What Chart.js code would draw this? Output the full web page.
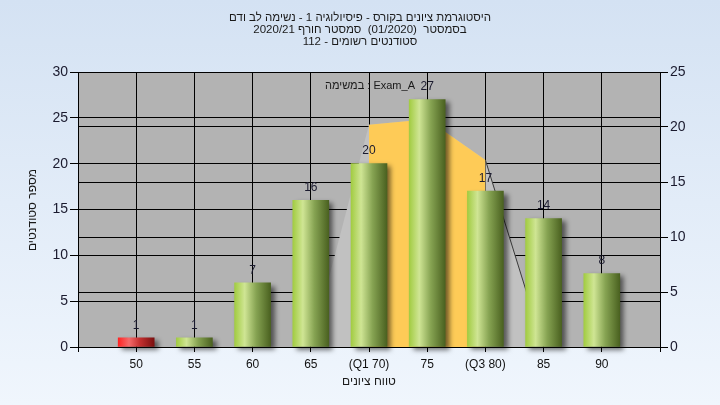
<!DOCTYPE html>
<html><head><meta charset="utf-8">
<script src="https://cdn.jsdelivr.net/npm/chart.js@4.4.1/dist/chart.umd.min.js"></script>
<style>html,body{margin:0;padding:0;background:#e6eef8}canvas{display:block}</style>
</head><body>
<canvas id="c" width="720" height="405"></canvas>
<script>
// ---- data ----
const categories = [50, 55, 60, 65, 70, 75, 80, 85, 90];
const xTickLabels = ['50', '55', '60', '65', '(Q1 70)', '75', '(Q3 80)', '85', '90'];
const counts = [1, 1, 7, 16, 20, 27, 17, 14, 8];
const barKinds = ['fail', 'pass', 'pass', 'pass', 'pass', 'pass', 'pass', 'pass', 'pass'];
const curveX = [65, 70, 75, 80, 85];
const curveY = [0, 20.2, 20.7, 17.0, 0];
const bandX = [70, 75, 80];
const bandY = [20.2, 20.7, 17.0];
const leftTicks = [0, 5, 10, 15, 20, 25, 30];
const rightTicks = [0, 5, 10, 15, 20, 25];
const titleLines = [
  'היסטוגרמת ציונים בקורס - פיסיולוגיה 1 - נשימה לב ודם',
  'בסמסטר  (01/2020)  סמסטר חורף 2020/21',
  'סטודנטים רשומים - 112'
];
const yTitle = 'מספר סטודנטים';
const xTitle = 'טווח ציונים';
const examLabel = 'במשימה : Exam_A';

const FONT = '"Liberation Sans", "DejaVu Sans", Arial, sans-serif';
Chart.defaults.font.family = FONT;

// draw words one by one, left to right
function drawTokens(ctx, line, x0, y) {
  const tokens = line.split(' ');
  const sp = ctx.measureText(' ').width;
  let x = x0;
  ctx.textAlign = 'left';
  tokens.forEach(t => { if (t) ctx.fillText(t, x, y); x += (t ? ctx.measureText(t).width : 0) + sp; });
}

function barFill(c) {
  const kind = barKinds[c.dataIndex];
  const solid = kind === 'fail' ? '#e22' : '#9c4';
  if (c.type !== 'data') return solid;
  const chart = c.chart, xs = chart.scales && chart.scales.x;
  if (!xs) return solid;
  const cx = xs.getPixelForValue(categories[c.dataIndex]);
  if (!isFinite(cx)) return solid;
  const g = chart.ctx.createLinearGradient(cx - 18, 0, cx + 18, 0);
  if (kind === 'fail') {
    g.addColorStop(0, '#ff2424'); g.addColorStop(0.3, '#f46a6a');
    g.addColorStop(0.6, '#c43030'); g.addColorStop(1, '#7a1010');
  } else {
    g.addColorStop(0, '#a2cc42'); g.addColorStop(0.28, '#cfe594');
    g.addColorStop(0.6, '#86a352'); g.addColorStop(1, '#4a6120');
  }
  return g;
}

const deco = {
  id: 'deco',
  beforeDraw(chart) {
    const { ctx, chartArea: a } = chart;
    ctx.save();
    const g = ctx.createLinearGradient(0, 0, 0, 405);
    g.addColorStop(0, '#d4e2f3'); g.addColorStop(1, '#f0f6fd');
    ctx.fillStyle = g; ctx.fillRect(0, 0, 720, 405);
    ctx.fillStyle = '#b3b3b3';
    ctx.fillRect(a.left, a.top, a.right - a.left, a.bottom - a.top);
    ctx.restore();
  },
  beforeDatasetDraw(chart, args) {
    if (args.meta.type === 'bar') {
      const ctx = chart.ctx; ctx.save();
      ctx.shadowColor = 'rgba(0,0,0,0.55)'; ctx.shadowBlur = 5;
      ctx.shadowOffsetX = 4; ctx.shadowOffsetY = 3;
    }
  },
  afterDatasetDraw(chart, args) {
    if (args.meta.type === 'bar') chart.ctx.restore();
  },
  afterDatasetsDraw(chart) {
    const ctx = chart.ctx;
    const meta = chart.getDatasetMeta(2);
    ctx.save();
    ctx.font = '12px ' + FONT; ctx.fillStyle = '#1a1a2e';
    ctx.textAlign = 'center'; ctx.textBaseline = 'middle';
    meta.data.forEach((el, i) => ctx.fillText(String(counts[i]), el.x, el.y - 12.5));
    ctx.restore();
  },
  afterDraw(chart) {
    const ctx = chart.ctx;
    ctx.save();
    ctx.fillStyle = '#1a1a1a';
    ctx.textBaseline = 'middle';
    ctx.font = '11.5px ' + FONT;
    ctx.save();
    ctx.direction = 'rtl'; ctx.textAlign = 'center';
    [17.5, 29.5, 41.5].forEach((y, i) => ctx.fillText(titleLines[i], 360, y));
    ctx.restore();
    ctx.font = '12px ' + FONT;
    ctx.textAlign = 'center';
    ctx.fillText(xTitle, 369, 382);
    ctx.save(); ctx.translate(33, 210); ctx.rotate(-Math.PI / 2);
    ctx.fillText(yTitle, 0, 0); ctx.restore();
    ctx.font = '11px ' + FONT;
    drawTokens(ctx, examLabel, 325, 86);
    ctx.restore();
  }
};

new Chart(document.getElementById('c'), {
  type: 'bar',
  data: {
    datasets: [
      {
        type: 'line', label: 'curve', yAxisID: 'y1', order: 3,
        data: curveX.map((x, i) => ({ x, y: curveY[i] })),
        fill: 'origin', backgroundColor: '#c1c1c1', borderWidth: 1, pointRadius: 0, tension: 0,
        segment: { borderColor: s => (s.p0.parsed.x === 80 ? '#3a3a3a' : 'rgba(0,0,0,0)') }
      },
      {
        type: 'line', label: 'band', yAxisID: 'y1', order: 2,
        data: bandX.map((x, i) => ({ x, y: bandY[i] })),
        fill: 'origin', backgroundColor: '#fecb57', borderWidth: 0, borderColor: 'rgba(0,0,0,0)',
        pointRadius: 0, tension: 0
      },
      {
        type: 'bar', label: 'counts', yAxisID: 'y', order: 1, clip: false,
        data: categories.map((x, i) => ({ x, y: counts[i] })),
        backgroundColor: barFill, borderWidth: 0, barThickness: 36
      }
    ]
  },
  options: {
    responsive: false, animation: false, devicePixelRatio: 1,
    layout: { padding: { top: 72, left: 0, right: 0, bottom: 0 } },
    plugins: { legend: { display: false }, title: { display: false }, tooltip: { enabled: false } },
    scales: {
      x: {
        type: 'linear', min: 45, max: 95, offset: false,
        grid: { color: '#000', lineWidth: 1, tickLength: 5, offset: false },
        border: { color: '#000' },
        ticks: {
          stepSize: 5, autoSkip: false, maxRotation: 0, padding: 5, color: '#111',
          font: { size: 12 },
          callback: v => { const i = categories.indexOf(v); return i >= 0 ? xTickLabels[i] : ''; }
        },
        afterFit: s => { s.height = 58; }
      },
      y: {
        position: 'left', min: 0, max: 30,
        grid: { color: '#000', lineWidth: 1, tickLength: 8 },
        border: { color: '#000' },
        ticks: { stepSize: 5, padding: 2, color: '#1a1a2e', font: { size: 14 },
          callback: v => (leftTicks.includes(v) ? String(v) : '') },
        afterFit: s => { s.width = 78; }
      },
      y1: {
        position: 'right', min: 0, max: 25,
        grid: { color: '#000', lineWidth: 1, tickLength: 8, drawOnChartArea: true },
        border: { color: '#000' },
        ticks: { stepSize: 5, padding: 2, color: '#1a1a2e', font: { size: 14 },
          callback: v => (rightTicks.includes(v) ? String(v) : '') },
        afterFit: s => { s.width = 60; }
      }
    }
  },
  plugins: [deco]
});
</script>
</body></html>
